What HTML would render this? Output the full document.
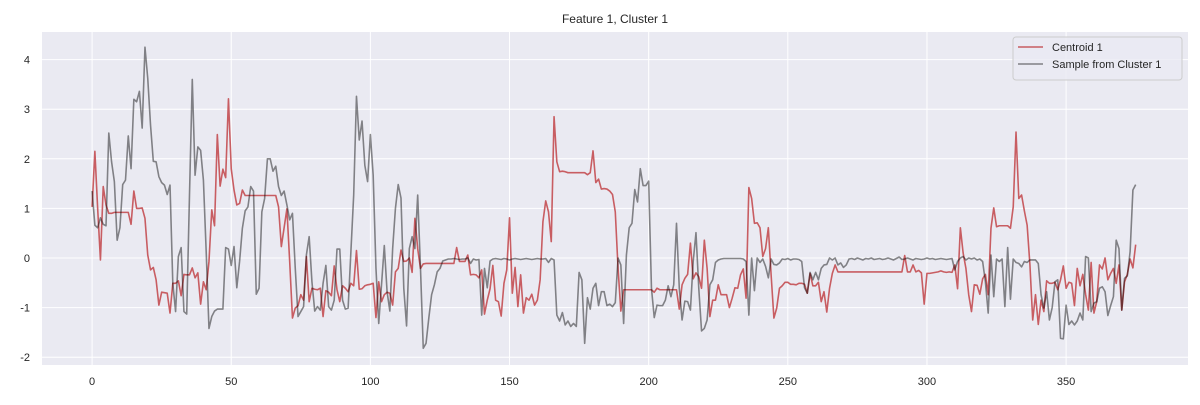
<!DOCTYPE html>
<html>
<head>
<meta charset="utf-8">
<style>
  html,body{margin:0;padding:0;background:#fff;}
  body{width:1200px;height:400px;overflow:hidden;font-family:"Liberation Sans","DejaVu Sans",sans-serif;}
  svg text{font-family:"Liberation Sans","DejaVu Sans",sans-serif;fill:#262626;}
</style>
</head>
<body>
<svg id="chart" width="1200" height="400" viewBox="0 0 1200 400" xmlns="http://www.w3.org/2000/svg">
  <text x="615" y="23" font-size="12" text-anchor="middle">Feature 1, Cluster 1</text>
  <rect x="42" y="32" width="1146" height="333" fill="#eaeaf2"/>
  <g id="grid"></g>
  <g id="xticks"></g>
  <g id="yticks"></g>
  <g id="series"></g>
  <g>
    <rect x="1013" y="37" width="169" height="43" rx="3" fill="#eaeaf2" fill-opacity="0.8" stroke="#cccccc" stroke-width="1"/>
    <g>
      <line x1="1018" y1="47" x2="1043" y2="47" stroke="#c44e52" stroke-width="1.6" stroke-opacity="0.9"/>
      <text x="1052" y="51" font-size="11">Centroid 1</text>
    </g>
    <g>
      <line x1="1018" y1="64" x2="1043" y2="64" stroke="#000" stroke-width="1.6" stroke-opacity="0.45"/>
      <text x="1052" y="68" font-size="11">Sample from Cluster 1</text>
    </g>
  </g>
</svg>
<script>
const xTicks = [0, 50, 100, 150, 200, 250, 300, 350];
const yTicks = [-2, -1, 0, 1, 2, 3, 4];
const centroid = [
1.03,2.15,1.0,-0.04,1.44,1.07,0.9,0.9,0.92,0.92,0.92,0.92,0.92,0.92,0.68,1.35,1.0,1.0,1.01,0.8,
0.06,-0.24,-0.19,-0.44,-0.95,-0.69,-0.7,-0.71,-1.11,-0.51,-0.51,-0.46,-0.76,-0.33,-0.34,-0.34,-0.2,-0.4,-0.3,-0.93,
-0.48,-0.64,-0.07,0.97,0.65,2.49,1.45,1.79,1.62,3.21,1.8,1.37,1.07,1.1,1.37,1.26,1.26,1.26,1.26,1.26,
1.26,1.26,1.26,1.26,1.26,1.26,1.26,1.03,0.23,0.61,0.99,-0.07,-1.21,-1.01,-0.96,-0.74,-0.85,0.03,-0.88,-0.61,
-0.63,-0.64,-0.61,-1.18,-0.66,-0.69,-0.76,-0.16,-0.64,-0.88,-0.56,-0.61,-0.68,-0.51,-0.56,0.15,-0.63,-0.62,-0.56,-0.54,
-0.53,-0.51,-1.2,-0.48,-0.88,-0.74,-0.69,-0.71,-0.95,-0.28,-0.21,0.16,-0.07,-0.06,0.0,-0.29,0.8,0.19,-0.21,-0.12,
-0.11,-0.11,-0.11,-0.11,-0.11,-0.11,-0.11,-0.11,-0.11,-0.11,-0.11,0.21,-0.07,-0.07,-0.07,0.06,-0.34,-0.33,-0.34,-0.4,
-0.24,-1.13,-0.85,-0.62,-0.15,-0.85,-0.88,-1.17,-0.51,-0.24,0.81,-0.71,-0.19,-0.98,-0.34,-1.11,-0.8,-0.85,-0.73,-0.95,
-0.85,-0.44,0.73,1.15,0.93,0.33,2.85,1.94,1.74,1.75,1.74,1.72,1.72,1.72,1.72,1.72,1.72,1.72,1.68,1.72,
2.16,1.52,1.59,1.39,1.4,1.39,1.35,1.28,0.93,-0.21,-1.07,-0.64,-0.64,-0.64,-0.64,-0.64,-0.64,-0.64,-0.64,-0.64,
-0.64,-0.64,-0.69,-0.61,-0.64,-0.64,-0.64,-0.64,-0.64,-0.64,-0.64,-1.03,-0.54,-0.41,-0.33,0.3,-0.42,-0.3,-0.38,-0.61,
0.36,-0.21,-1.18,-0.85,-0.85,-0.54,-0.74,-0.74,-0.74,-1.0,-0.81,-0.6,-0.61,-0.34,-0.22,-0.81,1.42,1.2,0.7,0.71,
0.61,0.03,0.19,0.61,-0.34,-1.21,-1.01,-0.61,-0.56,-0.49,-0.49,-0.53,-0.53,-0.54,-0.51,-0.51,-0.53,-0.71,-0.31,-0.56,
-0.56,-0.49,-0.88,-0.68,-1.09,-0.61,-0.31,-0.14,-0.28,-0.28,-0.28,-0.28,-0.28,-0.28,-0.28,-0.28,-0.28,-0.28,-0.28,-0.28,
-0.28,-0.28,-0.28,-0.28,-0.28,-0.28,-0.28,-0.28,-0.28,-0.28,-0.28,-0.28,0.05,-0.28,-0.28,-0.14,-0.28,-0.25,-0.3,-0.93,
-0.31,-0.31,-0.3,-0.29,-0.28,-0.26,-0.28,-0.29,-0.28,-0.29,-0.14,-0.62,0.61,0.1,-0.21,-0.74,-1.08,-0.54,-0.55,-0.73,
-0.42,-0.33,-0.74,0.6,1.01,0.63,0.65,0.65,0.65,0.65,0.6,1.03,2.54,1.2,1.27,0.95,0.66,-0.14,-1.25,-0.74,
-1.34,-0.85,-1.08,-0.46,-0.51,-0.51,-0.49,-0.64,-0.44,-0.16,-0.61,-0.49,-0.51,-0.96,-0.21,-0.56,-0.33,-0.73,-1.05,-0.09,
-1.11,-0.88,-0.14,-0.22,0.0,-0.44,-0.31,-0.21,-0.51,-0.14,-1.05,-0.48,-0.33,-0.02,-0.2,0.27
];
const sample = [
1.35,0.66,0.61,0.81,0.68,0.65,2.52,1.94,1.54,0.36,0.61,1.48,1.57,2.46,1.8,3.2,3.15,3.36,2.62,4.25,
3.62,2.68,1.95,1.94,1.64,1.52,1.47,1.28,1.47,-0.51,-1.08,0.03,0.21,-1.08,-1.13,1.27,3.6,1.67,2.24,2.17,
1.57,0.13,-1.42,-1.18,-1.07,-1.03,-1.03,-1.03,0.21,0.18,-0.15,0.23,-0.6,-0.07,0.6,0.95,1.03,1.44,1.35,-0.73,
-0.61,0.93,1.2,2.0,2.0,1.75,1.85,1.44,1.26,1.35,1.07,0.77,0.9,-0.2,-1.18,-1.08,-0.98,0.06,0.43,-0.48,
-1.07,-0.98,-1.05,-0.51,-0.15,-0.98,-1.05,-0.85,0.18,0.18,-0.85,-1.03,-1.01,0.13,1.27,3.26,2.38,2.76,1.87,1.54,
2.49,1.67,-0.2,-1.32,-0.54,0.25,-0.68,-1.07,0.19,1.0,1.48,1.21,-0.61,-1.37,0.19,0.43,0.19,1.27,-0.2,-1.82,
-1.72,-1.21,-0.74,-0.54,-0.28,-0.21,-0.06,-0.04,-0.02,-0.02,-0.01,-0.02,-0.03,-0.02,-0.02,0.0,-0.11,-0.02,-0.04,-0.03,
-1.15,-0.21,-0.6,-0.06,-0.02,-0.01,-0.02,-0.03,-0.01,-0.02,-0.04,-0.02,-0.01,-0.02,-0.03,-0.02,-0.01,-0.02,-0.03,-0.02,
-0.01,-0.02,-0.02,-0.01,-0.09,-0.01,-0.04,-1.15,-1.27,-1.1,-1.35,-1.27,-1.38,-1.32,-1.38,-0.29,-0.44,-1.72,-0.8,-1.03,
-0.61,-0.51,-0.96,-0.68,-0.68,-0.96,-0.93,-0.98,-0.9,0.0,-0.14,-1.32,0.06,0.61,0.7,1.38,1.13,1.8,1.46,1.46,
1.55,-0.61,-1.2,-0.95,-0.96,-0.96,-0.85,-0.56,-0.78,-0.54,0.7,-0.61,-1.25,-0.87,-0.88,-1.05,-0.07,0.51,-0.61,-1.47,
-1.42,-1.25,-0.54,-0.44,-0.09,-0.04,-0.02,-0.01,-0.01,-0.01,-0.01,-0.01,-0.01,-0.01,-0.02,-0.07,-1.15,0.0,-0.66,0.0,
-0.09,-0.02,-0.17,-0.4,-0.02,-0.13,-0.14,-0.1,-0.02,-0.03,-0.01,-0.04,-0.02,-0.02,-0.03,-0.07,-0.6,-0.71,-0.29,-0.44,
-0.29,-0.44,-0.21,-0.14,-0.13,0.0,-0.04,0.0,-0.14,-0.1,-0.19,-0.14,-0.02,-0.01,-0.03,0.0,-0.02,-0.04,-0.01,-0.02,
0.0,-0.03,-0.02,-0.01,-0.03,-0.02,0.0,-0.02,-0.04,-0.01,0.02,-0.03,-0.02,0.0,-0.02,-0.04,-0.01,-0.02,-0.03,-0.02,
0.0,-0.02,-0.01,-0.03,-0.02,-0.01,-0.02,-0.03,-0.02,-0.01,-0.24,-0.07,0.0,0.03,-0.04,0.0,-0.02,0.0,-0.04,-0.02,
-0.07,-0.48,-1.11,0.06,-0.78,-0.02,-0.07,-0.02,-0.98,0.21,-0.83,-0.02,-0.09,-0.11,-0.18,-0.07,-0.09,-0.04,-0.04,-0.04,
-0.11,-0.74,-1.01,-0.68,-1.25,-1.0,-0.48,-0.44,-1.62,-1.63,-0.95,-1.34,-1.27,-1.35,-1.27,-1.11,-1.25,0.03,0.0,-1.08,
-0.91,-0.88,-0.61,-0.58,-0.68,-1.16,-0.96,-0.78,0.36,0.19,-1.05,-0.41,-0.36,0.13,1.37,1.48
];

const NS = 'http://www.w3.org/2000/svg';
const PL = 42, PR = 1188, PT = 32, PB = 365;
const xMin = -18.0, xMax = 393.8;
const yZeroPx = 258, yUnitPx = 49.6;
function xs(v){ return PL + (v - xMin) / (xMax - xMin) * (PR - PL); }
function ys(v){ return yZeroPx - v * yUnitPx; }

const grid = document.getElementById('grid');
const xg = document.getElementById('xticks');
const yg = document.getElementById('yticks');
xTicks.forEach(t => {
  const l = document.createElementNS(NS, 'line');
  
  
  l.setAttribute('x1', xs(t)); l.setAttribute('x2', xs(t));
  l.setAttribute('y1', PT); l.setAttribute('y2', PB);
  l.setAttribute('stroke', '#fff'); l.setAttribute('stroke-width', '1');
  grid.appendChild(l);
  const tx = document.createElementNS(NS, 'text');
  
  
  tx.setAttribute('x', xs(t)); tx.setAttribute('y', 385);
  tx.setAttribute('font-size', '11'); tx.setAttribute('text-anchor', 'middle');
  tx.textContent = t;
  xg.appendChild(tx);
});
yTicks.forEach(t => {
  const l = document.createElementNS(NS, 'line');
  
  
  l.setAttribute('x1', PL); l.setAttribute('x2', PR);
  l.setAttribute('y1', ys(t)); l.setAttribute('y2', ys(t));
  l.setAttribute('stroke', '#fff'); l.setAttribute('stroke-width', '1');
  grid.appendChild(l);
  const tx = document.createElementNS(NS, 'text');
  
  
  tx.setAttribute('x', 30); tx.setAttribute('y', ys(t) + 4);
  tx.setAttribute('font-size', '11'); tx.setAttribute('text-anchor', 'end');
  tx.textContent = t;
  yg.appendChild(tx);
});

const sg = document.getElementById('series');
function drawLine(vals, color, op, name){
  const p = document.createElementNS(NS, 'path');
  let d = '';
  vals.forEach((v, i) => { d += (i ? 'L' : 'M') + xs(i).toFixed(2) + ',' + ys(v).toFixed(2); });
  p.setAttribute('d', d);
  p.setAttribute('fill', 'none');
  p.setAttribute('stroke', color);
  p.setAttribute('stroke-opacity', op);
  p.setAttribute('stroke-width', '1.6');
  p.setAttribute('stroke-linejoin', 'round');
  
  
  sg.appendChild(p);
}
drawLine(centroid, '#c44e52', '0.9', 'centroid-line');
drawLine(sample, '#000000', '0.45', 'sample-line');
</script>
</body>
</html>
